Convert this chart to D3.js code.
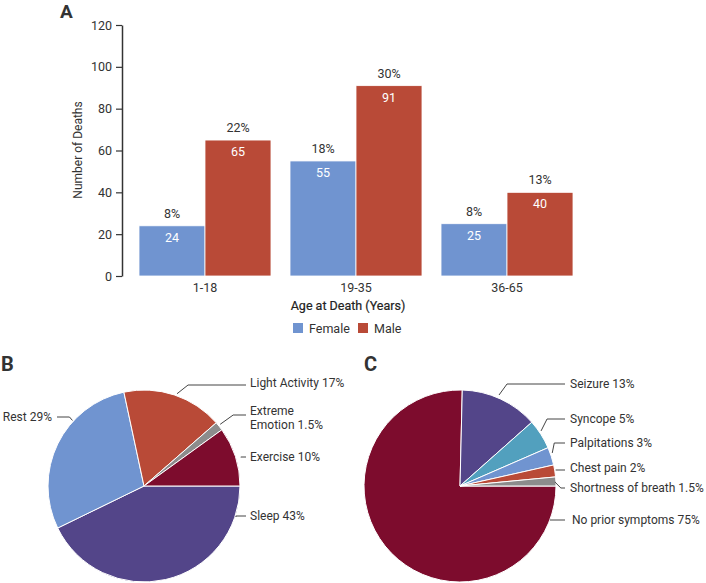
<!DOCTYPE html>
<html><head><meta charset="utf-8">
<script src="https://cdn.jsdelivr.net/npm/d3@7"></script>
<style>
html,body{margin:0;padding:0;background:#fff;}
svg{display:block;font-family:Roboto,"Noto Sans",sans-serif;}
</style></head>
<body>
<svg id="chart" width="706" height="583"></svg>
<script>
// ---------- DATA ----------
const ageGroups = ["1-18", "19-35", "36-65"];
const sexes = ["Female", "Male"];
const femaleDeaths = [24, 55, 25];
const maleDeaths = [65, 91, 40];
const femalePct = ["8%", "18%", "8%"];
const malePct = ["22%", "30%", "13%"];
const yTicks = [0, 20, 40, 60, 80, 100, 120];

const activityLabels = ["Sleep", "Rest", "Light Activity", "Extreme Emotion", "Exercise"];
const activityValues = [43, 29, 17, 1.5, 10];
const activityText = [["Sleep 43%"], ["Rest 29%"], ["Light Activity 17%"], ["Extreme", "Emotion 1.5%"], ["Exercise 10%"]];

const symptomLabels = ["No prior symptoms", "Seizure", "Syncope", "Palpitations", "Chest pain", "Shortness of breath"];
const symptomValues = [75, 13, 5, 3, 2, 1.5];
const symptomText = [["No prior symptoms 75%"], ["Seizure 13%"], ["Syncope 5%"], ["Palpitations 3%"], ["Chest pain 2%"], ["Shortness of breath 1.5%"]];

// ---------- STYLE ----------
const C = {
  blue: "#7094d0", red: "#b94a37", purple: "#534589", darkred: "#7d0c2d",
  teal: "#52a0be", gray: "#8c8c8c", text: "#333333", axis: "#333333"
};
const sexColor = d3.scaleOrdinal().domain(sexes).range([C.blue, C.red]);
const activityColor = d3.scaleOrdinal().domain(activityLabels).range([C.purple, C.blue, C.red, C.gray, C.darkred]);
const symptomColor = d3.scaleOrdinal().domain(symptomLabels).range([C.darkred, C.purple, C.teal, C.blue, C.red, C.gray]);

const svg = d3.select("#chart");

// ---------- PANEL A ----------
const x0 = d3.scaleBand().domain(ageGroups).range([122, 590]).paddingInner(0.126).paddingOuter(0.1126);
const x1 = d3.scaleBand().domain(sexes).range([0, x0.bandwidth()]);
const y = d3.scaleLinear().domain([0, 120]).range([276, 25]);

svg.append("text").attr("x", 60).attr("y", 18).text("A")
  .attr("font-size", 19).attr("font-weight", 700).attr("fill", C.text);

const yAxis = svg.append("g").attr("transform", "translate(122,0)")
  .call(d3.axisLeft(y).tickValues(yTicks).tickSize(6).tickSizeOuter(0).tickPadding(4));
yAxis.select(".domain").attr("stroke", C.axis).attr("stroke-width", 1.5);
yAxis.selectAll(".tick line").attr("stroke", C.axis).attr("stroke-width", 1.2);
yAxis.selectAll("text").attr("font-size", 12.5).attr("fill", C.text).attr("font-family", "Roboto");

svg.append("text").attr("transform", "translate(82,150) rotate(-90)")
  .attr("text-anchor", "middle").attr("font-size", 12).attr("fill", C.text).text("Number of Deaths");

const rows = ageGroups.map((g, i) => ({
  group: g,
  bars: [
    {sex: "Female", value: femaleDeaths[i], pct: femalePct[i]},
    {sex: "Male", value: maleDeaths[i], pct: malePct[i]}
  ]
}));

const gGroups = svg.selectAll(".grp").data(rows).join("g")
  .attr("transform", d => `translate(${x0(d.group)},0)`);

gGroups.selectAll("rect").data(d => d.bars).join("rect")
  .attr("x", d => x1(d.sex)).attr("width", x1.bandwidth())
  .attr("y", d => y(d.value)).attr("height", d => y(0) - y(d.value))
  .attr("fill", d => sexColor(d.sex)).attr("stroke", "#fff").attr("stroke-width", 0.8);

gGroups.selectAll(".pct").data(d => d.bars).join("text")
  .attr("x", d => x1(d.sex) + x1.bandwidth() / 2).attr("y", d => y(d.value) - 8)
  .attr("text-anchor", "middle").attr("font-size", 12.5).attr("fill", C.text).text(d => d.pct);

gGroups.selectAll(".val").data(d => d.bars).join("text")
  .attr("x", d => x1(d.sex) + x1.bandwidth() / 2).attr("y", d => y(d.value) + 16)
  .attr("text-anchor", "middle").attr("font-size", 12.5).attr("fill", "#fff").text(d => d.value);

gGroups.append("text").attr("x", x0.bandwidth() / 2).attr("y", 292)
  .attr("text-anchor", "middle").attr("font-size", 12.5).attr("fill", C.text).text(d => d.group);

svg.append("text").attr("x", 348).attr("y", 310).attr("text-anchor", "middle")
  .attr("font-size", 12.5).attr("fill", "#222").attr("stroke", "#222").attr("stroke-width", 0.2)
  .text("Age at Death (Years)");

const legendPos = [293, 358];
const lg = svg.selectAll(".leg").data(sexes).join("g")
  .attr("transform", (d, i) => `translate(${legendPos[i]},323)`);
lg.append("rect").attr("width", 10).attr("height", 10).attr("fill", d => sexColor(d));
lg.append("text").attr("x", 16).attr("y", 9.5).attr("font-size", 12.5).attr("fill", C.text).text(d => d);

// ---------- PIES ----------
const R = 96;
const pie = d3.pie().sort(null).value(d => d.value).startAngle(Math.PI / 2).endAngle(Math.PI / 2 + 2 * Math.PI);
const arc = d3.arc().innerRadius(0).outerRadius(R);

// label layout: anchor angle on rim (deg, clockwise from north), radius, elbow dx, line y, text y(s)
const layoutB = {
  cx: 144, cy: 486, lineEnd: 246, textX: 250, leftLineEnd: 57, leftTextX: 52,
  labels: [
    {a: 108.6, r: 97, dx: 0, ly: 516, ty: [516]},
    {a: 312.5, r: 97, dx: -3, ly: 417, ty: [417], left: true},
    {a: 19.7, r: 98, dx: 11, ly: 385, ty: [383]},
    {a: 51, r: 98, dx: 13, ly: 415, ty: [411, 425]},
    {a: 73.4, r: 101, dx: 0, ly: 457, ty: [457]}
  ]
};
const layoutC = {
  cx: 460, cy: 486, lineEnd: 565, textX: 570,
  labels: [
    {a: 110.7, r: 96, dx: 0, ly: 520, ty: [520], tx: 572},
    {a: 23.2, r: 99, dx: 8, ly: 384, ty: [384]},
    {a: 55.8, r: 98, dx: 6, ly: 419, ty: [419]},
    {a: 70.3, r: 98, dx: 2, ly: 443, ty: [443]},
    {a: 80.5, r: 97, dx: 0, ly: 470, ty: [468]},
    {a: 87.6, r: 95, dx: 6, ly: 488, ty: [488]}
  ]
};

function drawPie(labels, values, texts, color, L, letter, letterX) {
  const data = labels.map((l, i) => ({label: l, value: values[i], text: texts[i]}));
  const g = svg.append("g").attr("transform", `translate(${L.cx},${L.cy})`);
  g.selectAll("path").data(pie(data)).join("path")
    .attr("d", arc).attr("fill", d => color(d.data.label))
    .attr("stroke", "#fff").attr("stroke-width", 1).attr("stroke-linejoin", "round");

  data.forEach((d, i) => {
    const o = L.labels[i];
    const ang = o.a * Math.PI / 180;
    const p0 = [Math.sin(ang) * o.r, -Math.cos(ang) * o.r];
    const p1 = [p0[0] + o.dx, o.ly - L.cy];
    const endX = (o.left ? L.leftLineEnd : L.lineEnd) - L.cx;
    const p2 = [endX, o.ly - L.cy];
    g.append("path").attr("d", d3.line()([p0, p1, p2]))
      .attr("fill", "none").attr("stroke", "#444").attr("stroke-width", 1);
    const tx = (o.left ? L.leftTextX : (o.tx || L.textX)) - L.cx;
    const t = g.append("text").attr("font-size", 12).attr("fill", C.text)
      .attr("text-anchor", o.left ? "end" : "start");
    d.text.forEach((line, k) => {
      t.append("tspan").attr("x", tx).attr("y", o.ty[k] - L.cy + 4.2).text(line);
    });
  });

  svg.append("text").attr("x", letterX).attr("y", 371).text(letter)
    .attr("font-size", 20).attr("font-weight", 700).attr("fill", C.text);
}

drawPie(activityLabels, activityValues, activityText, activityColor, layoutB, "B", 1);
drawPie(symptomLabels, symptomValues, symptomText, symptomColor, layoutC, "C", 364);
</script>
</body></html>
